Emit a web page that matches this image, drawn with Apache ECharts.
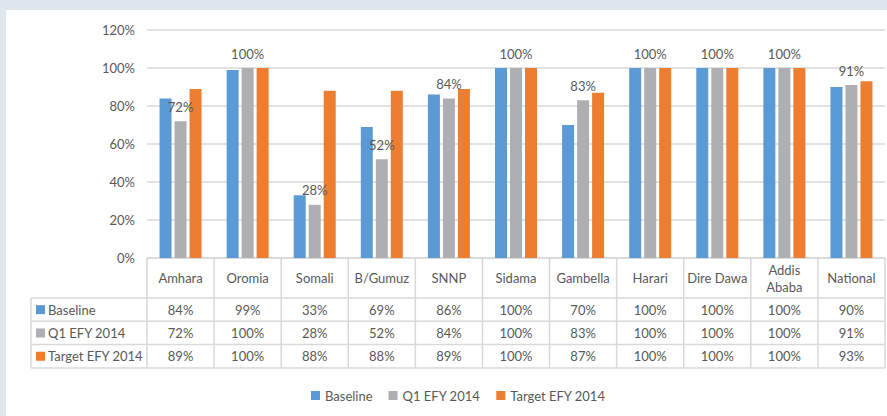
<!DOCTYPE html>
<html>
<head>
<meta charset="utf-8">
<script src="https://cdn.jsdelivr.net/npm/echarts@6/dist/echarts.min.js"></script>
<style>
  html, body { margin: 0; padding: 0; }
  body { width: 887px; height: 416px; background: #dfe7ed; position: relative; overflow: hidden; }
  #paper { position: absolute; left: 6px; top: 10px; width: 881px; height: 406px; background: #fff; }
  #chart { position: absolute; left: 0; top: 0; width: 887px; height: 416px; }
</style>
</head>
<body>
<div id="paper"></div>
<div id="chart"></div>
<script>
const regions = ['Amhara', 'Oromia', 'Somali', 'B/Gumuz', 'SNNP', 'Sidama', 'Gambella', 'Harari', 'Dire Dawa', 'Addis\nAbaba', 'National'];
const baseline = [84, 99, 33, 69, 86, 100, 70, 100, 100, 100, 90];
const q1Efy2014 = [72, 100, 28, 52, 84, 100, 83, 100, 100, 100, 91];
const targetEfy2014 = [89, 100, 88, 88, 89, 100, 87, 100, 100, 100, 93];
const yTicks = [0, 20, 40, 60, 80, 100, 120];

const seriesNames = ['Baseline', 'Q1 EFY 2014', 'Target EFY 2014'];
const seriesData = [baseline, q1Efy2014, targetEfy2014];
const colors = ['#5b9bd5', '#aeafb3', '#ed7d31'];

const FONT = 'Lato, "Open Sans", sans-serif';
const TXT = '#595959';
const LINE = '#d9d9d9';

// plot / table frame (px)
const plotLeft = 147, plotRight = 885, plotTop = 30, plotBottom = 258;
const tableLeft = 31, tableRowTop = 298, rowH = 23.3;

const chart = echarts.init(document.getElementById('chart'), null, { renderer: 'svg' });

chart.setOption({
  animation: false,
  textStyle: { fontFamily: FONT },
  color: colors,
  grid: {
    left: plotLeft,
    right: 887 - plotRight,
    top: plotTop,
    bottom: 416 - plotBottom,
    containLabel: false
  },
  legend: {
    left: 306,
    top: 384,
    itemWidth: 9,
    itemHeight: 9,
    itemGap: 16,
    icon: 'rect',
    textStyle: { color: TXT, fontSize: 13, fontFamily: FONT },
    data: seriesNames
  },
  xAxis: {
    type: 'category',
    data: regions,
    axisTick: { show: false },
    axisLine: { lineStyle: { color: LINE, width: 1.5 } },
    axisLabel: {
      interval: 0,
      margin: 20,
      verticalAlign: 'middle',
      color: TXT,
      fontSize: 13,
      lineHeight: 17,
      fontFamily: FONT
    }
  },
  yAxis: {
    type: 'value',
    min: yTicks[0],
    max: yTicks[yTicks.length - 1],
    interval: 20,
    axisLine: { show: false },
    axisTick: { show: false },
    splitLine: { lineStyle: { color: LINE, width: 1.5 } },
    axisLabel: {
      margin: 12,
      color: TXT,
      fontSize: 13,
      fontFamily: FONT,
      formatter: '{value}%'
    }
  },
  series: seriesData.map((d, i) => ({
    name: seriesNames[i],
    type: 'bar',
    data: d,
    barWidth: 12,
    barGap: '25%',
    itemStyle: { color: colors[i] },
    label: i === 1 ? {
      show: true,
      position: 'top',
      distance: 8,
      color: TXT,
      fontSize: 13,
      fontFamily: FONT,
      formatter: '{c}%'
    } : { show: false }
  }))
});

// data table under the plot, columns follow the category axis
function drawTable() {
  const centers = regions.map((r, i) => chart.convertToPixel({ xAxisIndex: 0 }, i));
  const colW = centers.length > 1 ? centers[1] - centers[0] : 67;
  const els = [];
  const tableBottom = tableRowTop + rowH * seriesNames.length;

  // horizontal rules
  for (let r = 0; r <= seriesNames.length; r++) {
    const y = tableRowTop + r * rowH;
    els.push({ type: 'line', shape: { x1: tableLeft, y1: y, x2: plotRight, y2: y },
      style: { stroke: LINE, lineWidth: 1.5 }, silent: true });
  }
  // vertical rules
  els.push({ type: 'line', shape: { x1: tableLeft, y1: tableRowTop, x2: tableLeft, y2: tableBottom },
    style: { stroke: LINE, lineWidth: 1.5 }, silent: true });
  for (let k = 0; k <= regions.length; k++) {
    const x = centers[0] - colW / 2 + k * colW;
    els.push({ type: 'line', shape: { x1: x, y1: plotBottom, x2: x, y2: tableBottom },
      style: { stroke: LINE, lineWidth: 1.5 }, silent: true });
  }
  // row headers and values
  seriesNames.forEach((name, r) => {
    const yMid = tableRowTop + r * rowH + rowH / 2;
    els.push({ type: 'rect', shape: { x: 36, y: yMid - 4.5, width: 9, height: 9 },
      style: { fill: colors[r] }, silent: true });
    els.push({ type: 'text', x: 48, y: yMid,
      style: { text: name, fill: TXT, font: '13px ' + FONT, textAlign: 'left', textVerticalAlign: 'middle' },
      silent: true });
    seriesData[r].forEach((v, c) => {
      els.push({ type: 'text', x: centers[c], y: yMid,
        style: { text: v + '%', fill: TXT, font: '13px ' + FONT, textAlign: 'center', textVerticalAlign: 'middle' },
        silent: true });
    });
  });
  chart.setOption({ graphic: { elements: els } });
}
drawTable();
</script>
</body>
</html>
